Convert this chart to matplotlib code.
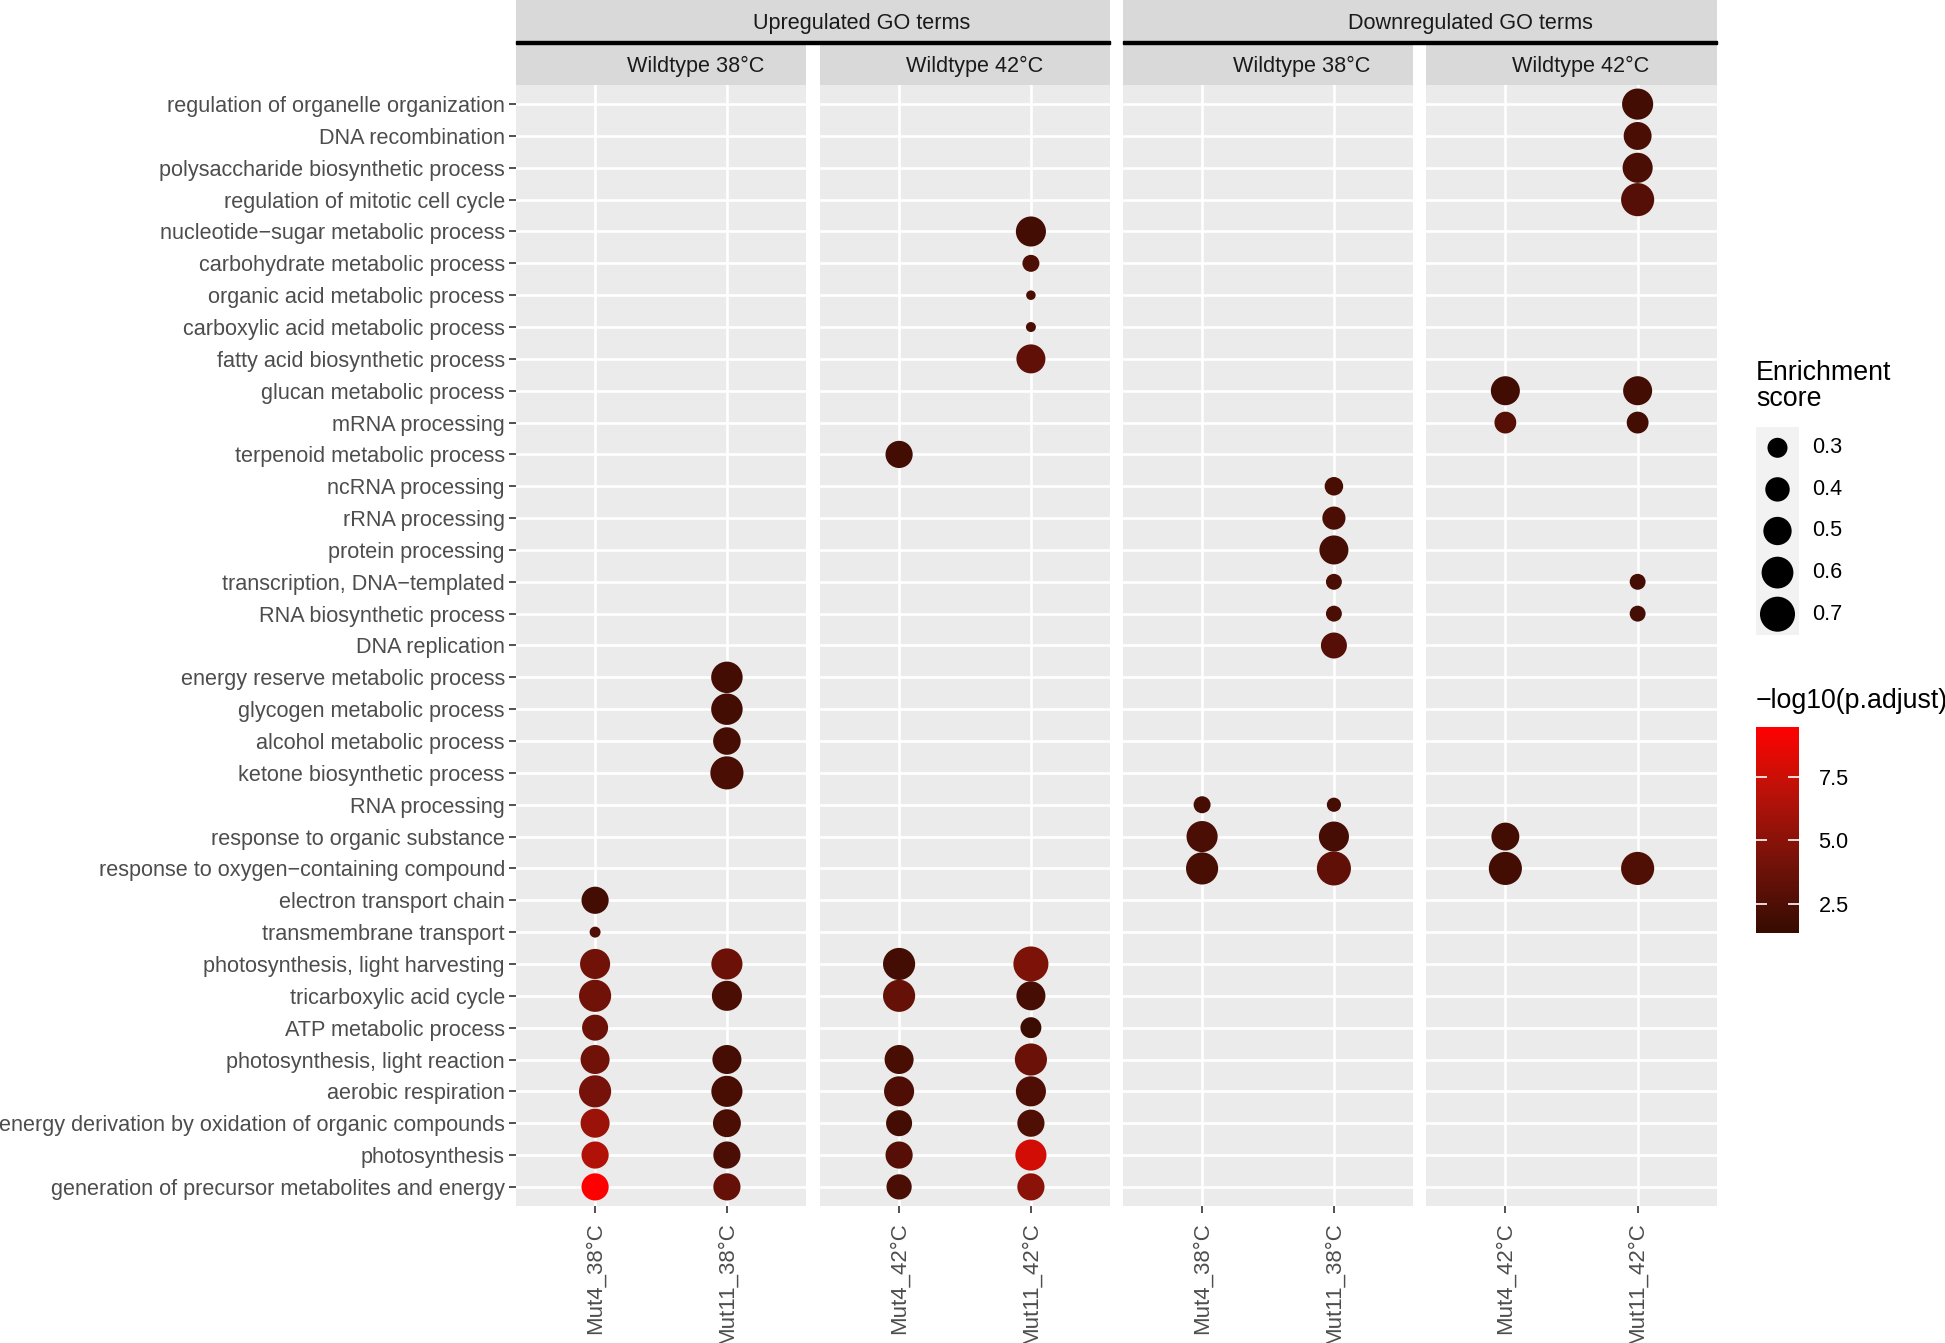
import numpy as np
import matplotlib
matplotlib.use('Agg')
import matplotlib.pyplot as plt
from matplotlib.colors import ListedColormap, Normalize
from matplotlib.patches import Rectangle
import matplotlib.colorbar as mcolorbar

plt.rcParams['font.family'] = ['Liberation Sans', 'DejaVu Sans']

# GO terms, top to bottom
terms = [
    'regulation of organelle organization', 'DNA recombination',
    'polysaccharide biosynthetic process', 'regulation of mitotic cell cycle',
    'nucleotide\u2212sugar metabolic process', 'carbohydrate metabolic process',
    'organic acid metabolic process', 'carboxylic acid metabolic process',
    'fatty acid biosynthetic process', 'glucan metabolic process',
    'mRNA processing', 'terpenoid metabolic process', 'ncRNA processing',
    'rRNA processing', 'protein processing', 'transcription, DNA\u2212templated',
    'RNA biosynthetic process', 'DNA replication',
    'energy reserve metabolic process', 'glycogen metabolic process',
    'alcohol metabolic process', 'ketone biosynthetic process', 'RNA processing',
    'response to organic substance', 'response to oxygen\u2212containing compound',
    'electron transport chain', 'transmembrane transport',
    'photosynthesis, light harvesting', 'tricarboxylic acid cycle',
    'ATP metabolic process', 'photosynthesis, light reaction',
    'aerobic respiration', 'energy derivation by oxidation of organic compounds',
    'photosynthesis', 'generation of precursor metabolites and energy',
]

# ---- Upregulated, Wildtype 38C ----
up_mut4_38_terms = ['electron transport chain', 'transmembrane transport',
                    'photosynthesis, light harvesting', 'tricarboxylic acid cycle',
                    'ATP metabolic process', 'photosynthesis, light reaction',
                    'aerobic respiration', 'energy derivation by oxidation of organic compounds',
                    'photosynthesis', 'generation of precursor metabolites and energy']
up_mut4_38_score = [0.47, 0.14, 0.55, 0.61, 0.44, 0.52, 0.61, 0.52, 0.47, 0.47]
up_mut4_38_logp = [2.0, 2.5, 4.0, 4.0, 3.8, 4.0, 4.2, 5.7, 6.6, 9.45]

up_mut11_38_terms = ['energy reserve metabolic process', 'glycogen metabolic process',
                     'alcohol metabolic process', 'ketone biosynthetic process',
                     'photosynthesis, light harvesting', 'tricarboxylic acid cycle',
                     'photosynthesis, light reaction', 'aerobic respiration',
                     'energy derivation by oxidation of organic compounds',
                     'photosynthesis', 'generation of precursor metabolites and energy']
up_mut11_38_score = [0.59, 0.59, 0.48, 0.64, 0.58, 0.55, 0.52, 0.58, 0.49, 0.47, 0.47]
up_mut11_38_logp = [2.0, 2.0, 2.1, 2.3, 3.8, 2.3, 2.1, 2.2, 2.3, 2.3, 3.5]

# ---- Upregulated, Wildtype 42C ----
up_mut4_42_terms = ['terpenoid metabolic process', 'photosynthesis, light harvesting',
                    'tricarboxylic acid cycle', 'photosynthesis, light reaction',
                    'aerobic respiration', 'energy derivation by oxidation of organic compounds',
                    'photosynthesis', 'generation of precursor metabolites and energy']
up_mut4_42_score = [0.47, 0.61, 0.61, 0.52, 0.55, 0.44, 0.47, 0.42]
up_mut4_42_logp = [2.0, 2.0, 3.5, 2.2, 2.5, 2.0, 2.8, 2.3]

up_mut11_42_terms = ['nucleotide\u2212sugar metabolic process', 'carbohydrate metabolic process',
                     'organic acid metabolic process', 'carboxylic acid metabolic process',
                     'fatty acid biosynthetic process', 'photosynthesis, light harvesting',
                     'tricarboxylic acid cycle', 'ATP metabolic process',
                     'photosynthesis, light reaction', 'aerobic respiration',
                     'energy derivation by oxidation of organic compounds',
                     'photosynthesis', 'generation of precursor metabolites and energy']
up_mut11_42_score = [0.55, 0.24, 0.12, 0.126, 0.52, 0.70, 0.52, 0.32, 0.61, 0.55, 0.47, 0.58, 0.47]
up_mut11_42_logp = [2.0, 2.5, 2.3, 2.3, 3.3, 4.5, 2.1, 1.6, 3.8, 2.5, 2.6, 7.8, 5.0]

# ---- Downregulated, Wildtype 38C ----
down_mut4_38_terms = ['RNA processing', 'response to organic substance',
                      'response to oxygen\u2212containing compound']
down_mut4_38_score = [0.24, 0.58, 0.61]
down_mut4_38_logp = [2.1, 2.3, 2.2]

down_mut11_38_terms = ['ncRNA processing', 'rRNA processing', 'protein processing',
                       'transcription, DNA\u2212templated', 'RNA biosynthetic process',
                       'DNA replication', 'RNA processing', 'response to organic substance',
                       'response to oxygen\u2212containing compound']
down_mut11_38_score = [0.27, 0.37, 0.52, 0.22, 0.22, 0.44, 0.19, 0.55, 0.67]
down_mut11_38_logp = [2.2, 2.3, 2.1, 2.3, 2.3, 2.8, 2.1, 2.1, 3.3]

# ---- Downregulated, Wildtype 42C ----
down_mut4_42_terms = ['glucan metabolic process', 'mRNA processing',
                      'response to organic substance', 'response to oxygen\u2212containing compound']
down_mut4_42_score = [0.52, 0.34, 0.49, 0.64]
down_mut4_42_logp = [1.9, 2.9, 2.0, 2.0]

down_mut11_42_terms = ['regulation of organelle organization', 'DNA recombination',
                       'polysaccharide biosynthetic process', 'regulation of mitotic cell cycle',
                       'glucan metabolic process', 'mRNA processing',
                       'transcription, DNA\u2212templated', 'RNA biosynthetic process',
                       'response to oxygen\u2212containing compound']
down_mut11_42_score = [0.58, 0.49, 0.55, 0.64, 0.52, 0.34, 0.22, 0.22, 0.64]
down_mut11_42_logp = [2.0, 2.3, 2.3, 2.8, 2.0, 2.0, 2.1, 2.1, 2.6]

size_breaks = [0.3, 0.4, 0.5, 0.6, 0.7]
color_breaks = [2.5, 5.0, 7.5]
logp_min, logp_max = 1.37, 9.45

W, H, DPI = 1945, 1343, 100


def box(x0, y0, x1, y1):
    return [x0 / W, 1 - y1 / H, (x1 - x0) / W, (y1 - y0) / H]


def dot_area(s):
    d = 20 + 52 * (np.sqrt(np.asarray(s)) - np.sqrt(0.3))
    return (d * 72.0 / DPI) ** 2


# gradient interpolated in Lab like ggplot
M = np.array([[0.4124, 0.3576, 0.1805], [0.2126, 0.7152, 0.0722], [0.0193, 0.1192, 0.9505]])
WHITE = np.array([0.95047, 1.0, 1.08883])


def to_lab(c):
    rgb = np.array(matplotlib.colors.to_rgb(c))
    lin = np.where(rgb <= 0.04045, rgb / 12.92, ((rgb + 0.055) / 1.055) ** 2.4)
    xyz = M @ lin / WHITE
    f = np.where(xyz > 0.008856, np.cbrt(xyz), 7.787 * xyz + 16 / 116)
    return np.array([116 * f[1] - 16, 500 * (f[0] - f[1]), 200 * (f[1] - f[2])])


def from_lab(lab):
    fy = (lab[0] + 16) / 116
    f = np.array([fy + lab[1] / 500, fy, fy - lab[2] / 200])
    xyz = np.where(f ** 3 > 0.008856, f ** 3, (f - 16 / 116) / 7.787) * WHITE
    lin = np.clip(np.linalg.inv(M) @ xyz, 0, 1)
    rgb = np.where(lin <= 0.0031308, 12.92 * lin, 1.055 * lin ** (1 / 2.4) - 0.055)
    return np.clip(rgb, 0, 1)


lo, hi = to_lab('#360B00'), to_lab('#FF0000')
cmap = ListedColormap([from_lab(lo + t * (hi - lo)) for t in np.linspace(0, 1, 256)])
norm = Normalize(logp_min, logp_max)

fig = plt.figure(figsize=(W / DPI, H / DPI), dpi=DPI)

# (panel x range, x labels, columns, strip label, strip text centre)
panels = [
    ((516, 806), ['Mut4_38\u00b0C', 'Mut11_38\u00b0C'],
     [(up_mut4_38_terms, up_mut4_38_score, up_mut4_38_logp),
      (up_mut11_38_terms, up_mut11_38_score, up_mut11_38_logp)], 'Wildtype 38\u00b0C', 696),
    ((820, 1110), ['Mut4_42\u00b0C', 'Mut11_42\u00b0C'],
     [(up_mut4_42_terms, up_mut4_42_score, up_mut4_42_logp),
      (up_mut11_42_terms, up_mut11_42_score, up_mut11_42_logp)], 'Wildtype 42\u00b0C', 975),
    ((1123, 1413), ['Mut4_38\u00b0C', 'Mut11_38\u00b0C'],
     [(down_mut4_38_terms, down_mut4_38_score, down_mut4_38_logp),
      (down_mut11_38_terms, down_mut11_38_score, down_mut11_38_logp)], 'Wildtype 38\u00b0C', 1302),
    ((1426, 1717), ['Mut4_42\u00b0C', 'Mut11_42\u00b0C'],
     [(down_mut4_42_terms, down_mut4_42_score, down_mut4_42_logp),
      (down_mut11_42_terms, down_mut11_42_score, down_mut11_42_logp)], 'Wildtype 42\u00b0C', 1581),
]

txt = 15.6
ytop, ybot = 85, 1206
for k, ((x0, x1), xlabels, cols, strip, sx) in enumerate(panels):
    ax = fig.add_axes(box(x0, ytop, x1, ybot))
    ax.set_facecolor('#EBEBEB')
    for sp in ax.spines.values():
        sp.set_visible(False)
    ax.set_xlim(0.4, 2.6)
    ax.set_ylim(len(terms) + 0.6, 0.4)
    ax.set_xticks([1, 2])
    ax.set_yticks(range(1, len(terms) + 1))
    ax.grid(True, color='white', lw=1.9)
    ax.set_axisbelow(True)
    for j, (tl, sc, lp) in enumerate(cols):
        yy = [terms.index(t) + 1 for t in tl]
        ax.scatter([j + 1] * len(yy), yy, s=dot_area(sc), c=lp, cmap=cmap, norm=norm,
                   linewidths=0, zorder=3)
    ax.set_xticklabels(xlabels, rotation=90, va='top', ha='center', fontsize=16, color='#4D4D4D')
    ax.tick_params(axis='both', length=5, width=1.2, color='#333333', pad=3)
    ax.tick_params(axis='x', pad=7)
    if k == 0:
        ax.set_yticklabels(terms, fontsize=txt, color='#4D4D4D')
    else:
        ax.tick_params(axis='y', left=False, labelleft=False)
    # inner strip
    sax = fig.add_axes(box(x0, 44, x1, ytop))
    sax.set_facecolor('#D9D9D9')
    sax.set_xticks([]); sax.set_yticks([])
    for sp in sax.spines.values():
        sp.set_visible(False)
    fig.text(sx / W, 1 - 66 / H, strip, ha='center', va='center', fontsize=txt, color='#1A1A1A')

# outer strips with the nesting line
for (x0, x1), label, sx in [((516, 1110), 'Upregulated GO terms', 862),
                            ((1123, 1717), 'Downregulated GO terms', 1470)]:
    sax = fig.add_axes(box(x0, 0, x1, 41))
    sax.set_facecolor('#D9D9D9')
    sax.set_xticks([]); sax.set_yticks([])
    for sp in sax.spines.values():
        sp.set_visible(False)
    fig.text(sx / W, 1 - 23 / H, label, ha='center', va='center', fontsize=txt, color='#1A1A1A')
    fig.add_artist(Rectangle((x0 / W, 1 - 44 / H), (x1 - x0) / W, 2.5 / H,
                             transform=fig.transFigure, color='black'))

# size legend
fig.text(1756 / W, 1 - 360 / H, 'Enrichment\nscore', ha='left', va='top', fontsize=19.3,
         color='black', linespacing=1.0)
lax = fig.add_axes(box(1756, 427, 1799, 635))
lax.set_facecolor('#F2F2F2')
lax.set_xlim(0, 1)
lax.set_ylim(len(size_breaks), 0)
for sp in lax.spines.values():
    sp.set_visible(False)
lax.set_xticks([]); lax.set_yticks([])
ys = np.arange(len(size_breaks)) + 0.5
lax.scatter([0.5] * len(ys), ys, s=dot_area(size_breaks), color='black', linewidths=0)
for y, b in zip(ys, size_breaks):
    lax.text(1.3, y, '%.1f' % b, ha='left', va='center', fontsize=txt, color='black',
             transform=lax.transData, clip_on=False)

# colour legend
fig.text(1756 / W, 1 - 688 / H, '\u2212log10(p.adjust)', ha='left', va='top', fontsize=19.3,
         color='black')
cax = fig.add_axes(box(1756, 727, 1799, 933))
cb = mcolorbar.ColorbarBase(cax, cmap=cmap, norm=norm, orientation='vertical')
cb.outline.set_visible(False)
cb.set_ticks(color_breaks)
cb.set_ticklabels(['%.1f' % v for v in color_breaks])
cax.tick_params(axis='y', direction='in', color='white', length=8, width=1.2,
                left=True, right=True, labelsize=txt, pad=14)

fig.savefig('out.png', dpi=DPI)
